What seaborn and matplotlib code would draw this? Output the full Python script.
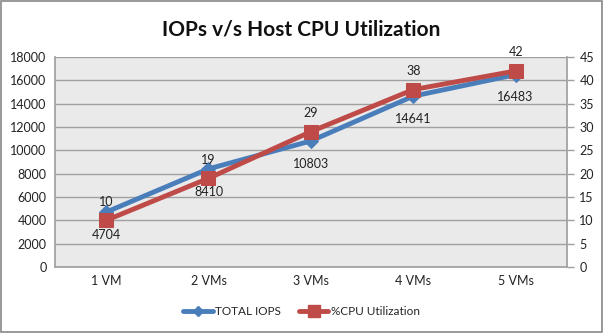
import matplotlib
matplotlib.use("Agg")
import matplotlib.pyplot as plt
import seaborn as sns
import pandas as pd
from matplotlib.lines import Line2D

categories = ["1 VM", "2 VMs", "3 VMs", "4 VMs", "5 VMs"]
total_iops = [4704, 8410, 10803, 14641, 16483]
cpu_util = [10, 19, 29, 38, 42]

sns.set_theme(style="white")
plt.rcParams["font.family"] = ["Lato", "DejaVu Sans"]

blue = "#4A7EBB"
red = "#BE4B48"

fig = plt.figure(figsize=(6.03, 3.33), dpi=100)
ax = fig.add_axes([0.091, 0.198, 0.849, 0.631])
ax2 = ax.twinx()

df = pd.DataFrame({"x": range(len(categories)), "iops": total_iops, "cpu": cpu_util})

ax.set_facecolor("#EAEAEA")
ax.set_zorder(0)
ax2.set_zorder(1)
ax2.patch.set_visible(False)

sns.lineplot(data=df, x="x", y="iops", ax=ax, color=blue, lw=3.5, marker="D",
             markersize=7, markeredgecolor=blue, legend=False, zorder=3)
sns.lineplot(data=df, x="x", y="cpu", ax=ax2, color=red, lw=3.5, marker="s",
             markersize=10, markeredgecolor=red, legend=False, zorder=3)

ax.set_xlim(-0.5, len(categories) - 0.5)
ax.set_ylim(0, 18000)
ax.set_yticks(range(0, 18001, 2000))
ax2.set_ylim(0, 45)
ax2.set_yticks(range(0, 46, 5))
ax.set_xticks(range(len(categories)))
ax.set_xticklabels(categories)
ax.set_xlabel("")
ax.set_ylabel("")
ax2.set_ylabel("")

ax.grid(axis="y", color="#A0A0A0", lw=1)
ax.grid(axis="x", visible=False)
for a in (ax, ax2):
    for s in a.spines.values():
        s.set_visible(False)
ax.spines["left"].set_visible(True)
ax.spines["left"].set_color("#A0A0A0")
ax.spines["bottom"].set_visible(True)
ax.spines["bottom"].set_color("#A0A0A0")
ax2.spines["right"].set_visible(True)
ax2.spines["right"].set_color("#A0A0A0")

ax.tick_params(axis="both", labelsize=9, colors="#222222", length=0, pad=6)
ax2.tick_params(axis="y", labelsize=9, colors="#222222", length=5, width=1, direction="out", pad=4)
ax2.tick_params(axis="y", color="#A0A0A0")

for i, v in enumerate(total_iops):
    ax.annotate(str(v), (i, v), xytext=(0, -12), textcoords="offset points",
                ha="center", va="top", fontsize=9, color="#222222", zorder=5)
for i, v in enumerate(cpu_util):
    ax2.annotate(str(v), (i, v), xytext=(0, 9), textcoords="offset points",
                 ha="center", va="bottom", fontsize=9, color="#222222", zorder=5)

fig.text(0.5, 0.91, "IOPs v/s Host CPU Utilization", ha="center", va="center",
         fontsize=15, fontweight="bold", color="#111111")

handles = [Line2D([], [], color=blue, lw=3.5, marker="D", markersize=5, label="TOTAL IOPS"),
           Line2D([], [], color=red, lw=3.5, marker="s", markersize=8, label="%CPU Utilization")]
fig.legend(handles=handles, loc="center", bbox_to_anchor=(0.5, 0.065), ncol=2, frameon=False,
           fontsize=8.5, handlelength=2.5, handletextpad=0.2, columnspacing=1.5)

border = plt.Rectangle((0.002, 0.003), 0.996, 0.994, transform=fig.transFigure, fill=False,
                       edgecolor="#888888", lw=1.2)
fig.patches.append(border)

fig.savefig("out.png", dpi=100)
